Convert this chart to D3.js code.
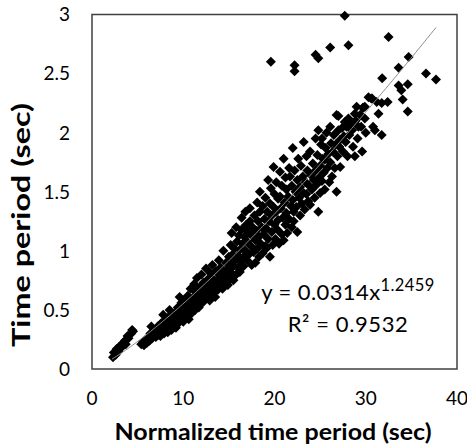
<!DOCTYPE html>
<html>
<head>
<meta charset="utf-8">
<script src="https://cdn.jsdelivr.net/npm/d3@7"></script>
<style>
  body { margin: 0; background: #fff; }
  svg { display: block; }
  text { font-family: Lato, "Open Sans", sans-serif; fill: #000; }
</style>
</head>
<body>
<div id="chart"></div>
<script>
// tick values
const xTicks = [0, 10, 20, 30, 40];
const yTicks = [0, 0.5, 1, 1.5, 2, 2.5, 3];

// fitted power trend shown on the chart: y = a * x^b
const fitA = 0.0314;
const fitB = 1.2459;
const fitR2 = 0.9532;
const fitRange = [2.2, 37.7];

// small first cluster
const clusterLow = [
  [2.3,0.10],[2.4,0.14],[2.6,0.12],[2.7,0.17],[2.9,0.15],[3.0,0.19],[3.2,0.18],[3.4,0.22],
  [3.6,0.24],[3.7,0.21],[3.9,0.28],[4.0,0.26],[4.3,0.30],[4.5,0.32],[4.4,0.33]
];

// main band, x 5 - 10
const bandA = [
  [5.4,0.21],[5.6,0.23],[5.7,0.20],[5.9,0.25],[6.0,0.22],[6.2,0.27],[6.3,0.24],[6.4,0.30],
  [6.5,0.36],[6.6,0.26],[6.8,0.29],[6.9,0.33],[7.0,0.27],[7.1,0.31],[7.2,0.36],[7.3,0.29],
  [7.4,0.34],[7.5,0.28],[7.6,0.39],[7.7,0.32],[7.8,0.36],[7.8,0.46],[7.9,0.30],[8.0,0.41],
  [8.1,0.34],[8.2,0.38],[8.3,0.31],[8.4,0.44],[8.5,0.50],[8.5,0.36],[8.6,0.40],[8.7,0.33],
  [8.8,0.43],[8.9,0.37],[9.0,0.47],[9.1,0.40],[9.2,0.35],[9.3,0.44],[9.4,0.52],[9.5,0.39],
  [9.6,0.61],[9.6,0.47],[9.7,0.42],[9.8,0.56],[9.9,0.45],[10.0,0.50],[10.0,0.40]
];

// main band, x 10 - 15
const bandB = [
  [10.1,0.58],[10.2,0.44],[10.3,0.53],[10.4,0.47],[10.5,0.62],[10.5,0.51],[10.6,0.42],[10.7,0.56],
  [10.8,0.68],[10.8,0.49],[10.9,0.47],[11.0,0.60],[11.1,0.53],[11.2,0.72],[11.2,0.57],[11.3,0.50],
  [11.4,0.65],[11.5,0.77],[11.5,0.55],[11.6,0.60],[11.7,0.52],[11.8,0.69],[11.9,0.58],[12.0,0.63],
  [12.0,0.80],[12.1,0.56],[12.2,0.73],[12.3,0.66],[12.4,0.59],[12.5,0.85],[12.5,0.70],[12.6,0.62],
  [12.7,0.76],[12.8,0.68],[12.9,0.58],[13.0,0.81],[13.0,0.72],[13.1,0.65],[13.2,0.88],[13.3,0.64],
  [13.3,0.76],[13.4,0.70],[13.5,0.61],[13.6,0.83],[13.7,0.74],[13.8,0.67],[13.9,0.92],[14.0,0.79],
  [14.0,0.70],[14.1,0.86],[14.2,0.75],[14.3,0.68],[14.4,1.00],[14.4,0.83],[14.5,0.77],[14.6,0.72],
  [14.7,0.90],[14.8,0.80],[14.9,0.71],[15.0,0.95],[15.0,0.85]
];

// main band, x 15 - 20
const bandC = [
  [15.1,0.76],[15.2,1.05],[15.2,0.90],[15.3,1.15],[15.3,0.81],[15.4,0.97],[15.5,0.75],[15.5,0.87],
  [15.6,1.02],[15.7,0.92],[15.8,1.20],[15.8,0.80],[15.9,1.08],[16.0,0.96],[16.0,0.86],[16.1,1.13],
  [16.2,0.82],[16.2,1.01],[16.3,0.91],[16.4,1.28],[16.4,1.18],[16.5,1.06],[16.6,0.95],[16.6,0.87],
  [16.7,1.12],[16.8,1.33],[16.8,1.00],[16.9,1.22],[17.0,0.92],[17.0,1.08],[17.1,1.16],[17.2,0.97],
  [17.3,1.36],[17.3,1.25],[17.4,1.04],[17.5,0.88],[17.5,1.13],[17.6,1.20],[17.7,0.99],[17.8,1.30],
  [17.9,0.90],[17.9,1.09],[18.0,1.17],[18.1,1.41],[18.1,1.02],[18.2,1.25],[18.3,0.95],[18.3,1.12],
  [18.4,1.50],[18.4,1.33],[18.5,1.06],[18.6,1.20],[18.7,0.98],[18.7,1.38],[18.8,1.14],[18.9,1.27],
  [19.0,1.04],[19.0,1.45],[19.1,1.02],[19.1,1.19],[19.2,1.33],[19.3,1.60],[19.3,1.10],[19.4,1.25],
  [19.5,0.95],[19.5,1.40],[19.6,1.53],[19.7,1.16],[19.7,1.30],[19.8,1.05],[19.9,1.37],[19.9,1.71],
  [20.0,1.22],[20.0,1.48]
];

// main band, x 20 - 25
const bandD = [
  [20.1,1.10],[20.2,1.58],[20.2,1.33],[20.3,1.18],[20.4,1.26],[20.4,1.44],[20.5,1.06],[20.6,1.67],
  [20.6,1.46],[20.7,1.36],[20.8,1.14],[20.8,1.55],[20.9,1.28],[21.0,1.78],[21.0,1.09],[21.1,1.41],
  [21.2,1.62],[21.2,1.22],[21.3,1.52],[21.3,1.32],[21.4,1.15],[21.5,1.46],[21.6,1.70],[21.6,1.27],
  [21.7,1.63],[21.8,1.38],[21.9,1.20],[21.9,1.55],[22.0,1.87],[22.0,1.43],[22.1,1.25],[22.1,1.33],
  [22.2,1.68],[22.3,1.50],[22.4,1.37],[22.5,1.16],[22.5,1.60],[22.6,1.78],[22.7,1.45],[22.8,1.54],
  [22.8,1.30],[22.9,1.72],[23.0,1.40],[23.1,1.63],[23.2,1.92],[23.2,1.49],[23.3,1.35],[23.4,1.58],
  [23.5,1.80],[23.5,1.48],[23.6,1.68],[23.7,1.42],[23.8,1.55],[23.9,1.84],[23.9,1.39],[24.0,1.64],
  [24.1,1.52],[24.2,1.74],[24.3,1.60],[24.4,1.45],[24.5,1.95],[24.5,1.68],[24.6,1.56],[24.7,1.81],
  [24.8,2.02],[24.8,1.33],[24.9,1.62],[25.0,1.72],[25.0,1.49]
];

// main band, x 25 - 32
const bandE = [
  [25.1,1.90],[25.2,1.95],[25.2,1.59],[25.3,1.78],[25.4,1.66],[25.5,1.77],[25.5,1.52],[25.6,1.87],
  [25.7,2.00],[25.8,1.70],[25.9,1.82],[26.0,1.58],[26.1,2.05],[26.1,1.75],[26.2,1.91],[26.3,1.63],
  [26.4,1.84],[26.5,1.98],[26.6,1.70],[26.7,1.90],[26.8,2.15],[26.8,1.50],[26.9,1.80],[27.0,2.02],
  [27.0,2.14],[27.1,1.88],[27.2,1.71],[27.2,1.94],[27.4,2.04],[27.5,1.84],[27.6,1.97],[27.7,2.09],
  [27.8,1.92],[27.9,2.05],[28.0,1.80],[28.1,2.12],[28.2,1.98],[28.4,2.07],[28.5,2.02],[28.6,1.88],
  [28.8,2.16],[28.8,1.80],[28.9,2.10],[29.0,2.22],[29.1,1.95],[29.2,2.05],[29.4,2.15],[29.5,2.05],
  [29.6,1.84],[29.7,2.21],[29.9,2.12],[29.9,2.22],[30.0,2.00],[30.3,2.30],[30.6,2.29],[30.8,2.05],
  [31.0,2.02],[31.2,2.26],[31.4,2.16],[31.75,1.98]
];

// scattered points away from the band
const outliers = [
  [19.6,2.60],[22.2,2.57],[22.2,2.52],[24.5,2.66],[24.8,2.63],[26.1,2.72],[28.1,2.74],[27.7,2.99],
  [32.5,2.81],[34.7,2.64],[33.6,2.55],[31.8,2.46],[36.6,2.50],[37.7,2.45],[33.6,2.40],[34.6,2.41],
  [33.9,2.36],[34.05,2.28],[34.6,2.18],[32.4,2.26],[30.7,2.29],[31.75,2.25],[29.7,2.21],[29.4,2.15]
];

const points = [].concat(clusterLow, bandA, bandB, bandC, bandD, bandE, outliers);

const width = 467, height = 445;
const margin = { left: 92, right: 10, top: 14.5, bottom: 76 };
const plotW = width - margin.left - margin.right;
const plotH = height - margin.top - margin.bottom;

const svg = d3.select("#chart").append("svg")
  .attr("width", width)
  .attr("height", height);

const x = d3.scaleLinear().domain([0, 40]).range([margin.left, margin.left + plotW]);
const y = d3.scaleLinear().domain([0, 3]).range([margin.top + plotH, margin.top]);

// plot frame
svg.append("rect")
  .attr("x", x(0)).attr("y", y(3))
  .attr("width", x(40) - x(0)).attr("height", y(0) - y(3))
  .attr("fill", "none")
  .attr("stroke", "#404040")
  .attr("stroke-width", 1.5);

// tick labels
svg.append("g").selectAll("text")
  .data(xTicks).join("text")
  .attr("x", d => x(d))
  .attr("y", 405)
  .attr("text-anchor", "middle")
  .attr("font-size", 19)
  .text(d => d);

svg.append("g").selectAll("text")
  .data(yTicks).join("text")
  .attr("x", 70)
  .attr("y", d => y(d))
  .attr("dy", "0.36em")
  .attr("text-anchor", "end")
  .attr("font-size", 19)
  .text(d => d);

// axis titles
svg.append("text")
  .attr("x", 273)
  .attr("y", 440)
  .attr("text-anchor", "middle")
  .attr("font-size", 22.5)
  .attr("font-weight", "bold")
  .attr("textLength", 317)
  .attr("lengthAdjust", "spacingAndGlyphs")
  .text("Normalized time period (sec)");

svg.append("text")
  .attr("transform", "translate(30,225) rotate(-90)")
  .attr("text-anchor", "middle")
  .attr("font-size", 24)
  .attr("font-weight", "bold")
  .attr("textLength", 244)
  .attr("lengthAdjust", "spacingAndGlyphs")
  .text("Time period (sec)");

// markers
const diamond = d3.symbol(d3.symbolSquare, 50);
svg.append("g").selectAll("path")
  .data(points).join("path")
  .attr("transform", d => `translate(${x(d[0])},${y(d[1])}) rotate(45)`)
  .attr("d", diamond)
  .attr("fill", "#000");

// trend line from the fitted equation
const trendXs = d3.range(fitRange[0], fitRange[1], 0.25).concat([fitRange[1]]);
const line = d3.line()
  .x(d => x(d))
  .y(d => y(fitA * Math.pow(d, fitB)));
svg.append("path")
  .datum(trendXs)
  .attr("d", line)
  .attr("fill", "none")
  .attr("stroke", "#8c8c8c")
  .attr("stroke-width", 1);

// equation label
const eq = svg.append("text")
  .attr("x", 348)
  .attr("y", 300)
  .attr("text-anchor", "middle")
  .attr("font-size", 22)
  .attr("letter-spacing", 0.4);
eq.append("tspan").text(`y = ${fitA}x`);
eq.append("tspan").attr("dy", -9).attr("font-size", 16.5).text(fitB);

svg.append("text")
  .attr("x", 348)
  .attr("y", 332)
  .attr("text-anchor", "middle")
  .attr("font-size", 22)
  .attr("letter-spacing", 0.6)
  .text(`R² = ${fitR2}`);
</script>
</body>
</html>
